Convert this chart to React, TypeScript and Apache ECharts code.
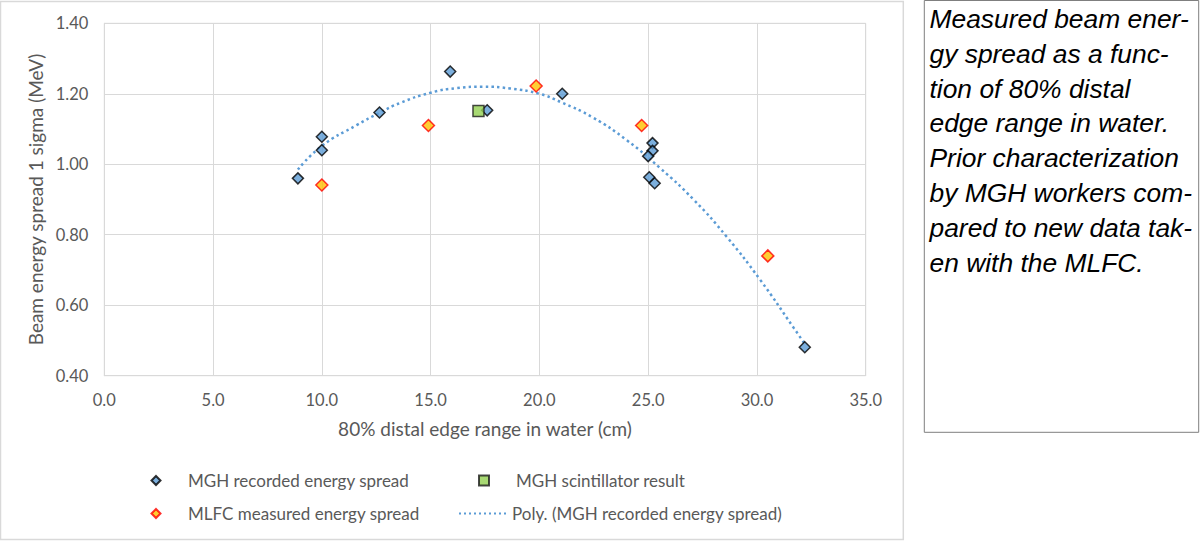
import React, { useEffect, useRef } from "react";
import * as echarts from "echarts";

// MGH recorded energy spread
const mghX = [8.9, 10.0, 10.0, 12.65, 15.9, 17.6, 21.05, 25.2, 25.2, 25.0, 25.05, 25.3, 32.2];
const mghY = [0.96, 1.04, 1.078, 1.147, 1.263, 1.153, 1.2, 1.06, 1.038, 1.023, 0.963, 0.946, 0.481];
// MLFC measured energy spread
const mlfcX = [10.0, 14.9, 19.85, 24.7, 30.5];
const mlfcY = [0.941, 1.11, 1.222, 1.11, 0.74];
// MGH scintillator result
const scintX = [17.2];
const scintY = [1.151];
// Poly. trendline
const polyX = [8.9, 10.0, 11.6, 12.65, 13.6, 15.0, 16.2, 17.4, 18.65, 20.0, 21.0, 22.45, 24.0, 25.55, 27.1, 28.6, 30.15, 31.7, 32.2];
const polyY = [0.985, 1.052, 1.111, 1.146, 1.174, 1.203, 1.216, 1.22, 1.215, 1.2, 1.176, 1.133, 1.069, 0.989, 0.899, 0.795, 0.672, 0.535, 0.49];

const xTicks = { min: 0, max: 35, interval: 5 };
const yTicks = { min: 0.4, max: 1.4, interval: 0.2 };

const names = {
  mgh: "MGH recorded energy spread",
  scint: "MGH scintillator result",
  mlfc: "MLFC measured energy spread",
  poly: "Poly. (MGH recorded energy spread)",
};

const captionLines = [
  "Measured beam ener-",
  "gy spread as a func-",
  "tion of 80% distal",
  "edge range in water.",
  "Prior characterization",
  "by MGH workers com-",
  "pared to new data tak-",
  "en with the MLFC.",
];

const zip = (xs: number[], ys: number[]) => xs.map((x, i) => [x, ys[i]]);

export default function App() {
  const ref = useRef<HTMLDivElement>(null);
  useEffect(() => {
    if (!ref.current) return;
    const chart = echarts.init(ref.current, null, { renderer: "svg" });
    const font = "Lato, 'Open Sans', sans-serif";
    const grey = "#595959";
    const legendBase = {
      orient: "horizontal" as const,
      padding: 0,
      itemHeight: 9,
      itemWidth: 9,
      textStyle: { color: grey, fontSize: 17, fontFamily: font, padding: [0, 0, 0, 22.5] },
      selectedMode: false,
    };
    chart.setOption({
      animation: false,
      backgroundColor: "#ffffff",
      grid: {
        left: 104.3,
        right: 1200 - 865.7,
        top: 23.3,
        bottom: 541 - 375.7,
        show: true,
        borderColor: "#D9D9D9",
        borderWidth: 1,
      },
      xAxis: {
        type: "value",
        min: xTicks.min,
        max: xTicks.max,
        interval: xTicks.interval,
        name: "80% distal edge range in water (cm)",
        nameLocation: "middle",
        nameGap: 43.5,
        nameTextStyle: { color: grey, fontSize: 19, fontFamily: font },
        axisLine: { show: true, lineStyle: { color: "#D9D9D9" } },
        axisTick: { show: false },
        axisLabel: {
          color: grey,
          fontSize: 16.5,
          fontFamily: font,
          margin: 16,
          formatter: (v: number) => v.toFixed(1),
        },
        splitLine: { show: true, lineStyle: { color: "#D9D9D9", width: 1 } },
      },
      yAxis: {
        type: "value",
        min: yTicks.min,
        max: yTicks.max,
        interval: yTicks.interval,
        name: "Beam energy spread 1 sigma (MeV)",
        nameLocation: "middle",
        nameGap: 55.5,
        nameTextStyle: { color: grey, fontSize: 19, fontFamily: font },
        axisLine: { show: true, lineStyle: { color: "#D9D9D9" } },
        axisTick: { show: false },
        axisLabel: {
          color: grey,
          fontSize: 16.5,
          fontFamily: font,
          margin: 16,
          formatter: (v: number) => v.toFixed(2),
        },
        splitLine: { show: true, lineStyle: { color: "#D9D9D9", width: 1 } },
      },
      legend: [
        { ...legendBase, data: [names.mgh], left: 150.5, top: 472 },
        {
          ...legendBase,
          data: [names.scint],
          left: 478,
          top: 472,
          itemWidth: 10,
          itemHeight: 10,
          textStyle: { color: grey, fontSize: 17, fontFamily: font, padding: [0, 0, 0, 22] },
        },
        { ...legendBase, data: [names.mlfc], left: 150.5, top: 505 },
        {
          ...legendBase,
          data: [names.poly],
          left: 458,
          top: 505,
          itemWidth: 48,
          itemHeight: 9,
          itemStyle: { opacity: 0 },
          lineStyle: { color: "#5B9BD5", width: 2, type: [2, 3], opacity: 1 },
          textStyle: { color: grey, fontSize: 17, fontFamily: font, padding: [0, 0, 0, 0] },
        },
      ],
      graphic: [
        {
          type: "rect",
          shape: { x: 0.5, y: 1.5, width: 902.8, height: 538 },
          style: { fill: "none", stroke: "#D9D9D9", lineWidth: 1.5 },
          silent: true,
          z: -10,
        },
        {
          type: "rect",
          shape: { x: 924.3, y: 0.5, width: 274.4, height: 431.8 },
          style: { fill: "#ffffff", stroke: "#7F7F7F", lineWidth: 1 },
          silent: true,
        },
        {
          type: "text",
          x: 929.5,
          y: 1.5,
          style: {
            text: captionLines.join("\n"),
            fill: "#000000",
            font: "italic 26.4px 'Liberation Sans', Arial, sans-serif",
            lineHeight: 34.8,
            textAlign: "left",
            textVerticalAlign: "top",
          },
          silent: true,
        },
      ],
      series: [
        {
          name: names.poly,
          type: "line",
          data: zip(polyX, polyY),
          smooth: true,
          showSymbol: false,
          symbol: "none",
          z: 1,
          lineStyle: { color: "#5B9BD5", width: 2.5, type: [2.5, 3.2] },
          itemStyle: { color: "#5B9BD5" },
        },
        {
          name: names.mgh,
          type: "scatter",
          symbol: "diamond",
          symbolSize: 11,
          data: zip(mghX, mghY),
          z: 3,
          itemStyle: { color: "#5B9BD5", borderColor: "#000000", borderWidth: 1.5 },
        },
        {
          name: names.scint,
          type: "scatter",
          symbol: "rect",
          symbolSize: 11,
          data: zip(scintX, scintY),
          z: 3,
          itemStyle: { color: "#92D050", borderColor: "#1a1a1a", borderWidth: 1.5 },
        },
        {
          name: names.mlfc,
          type: "scatter",
          symbol: "diamond",
          symbolSize: 12,
          data: zip(mlfcX, mlfcY),
          z: 3,
          itemStyle: { color: "#FFC000", borderColor: "#FF0000", borderWidth: 1.5 },
        },
      ],
    });
    return () => chart.dispose();
  }, []);
  return (
    <div
      ref={ref}
      style={{ position: "absolute", left: 0, top: 0, width: 1200, height: 541, background: "#fff" }}
    />
  );
}
